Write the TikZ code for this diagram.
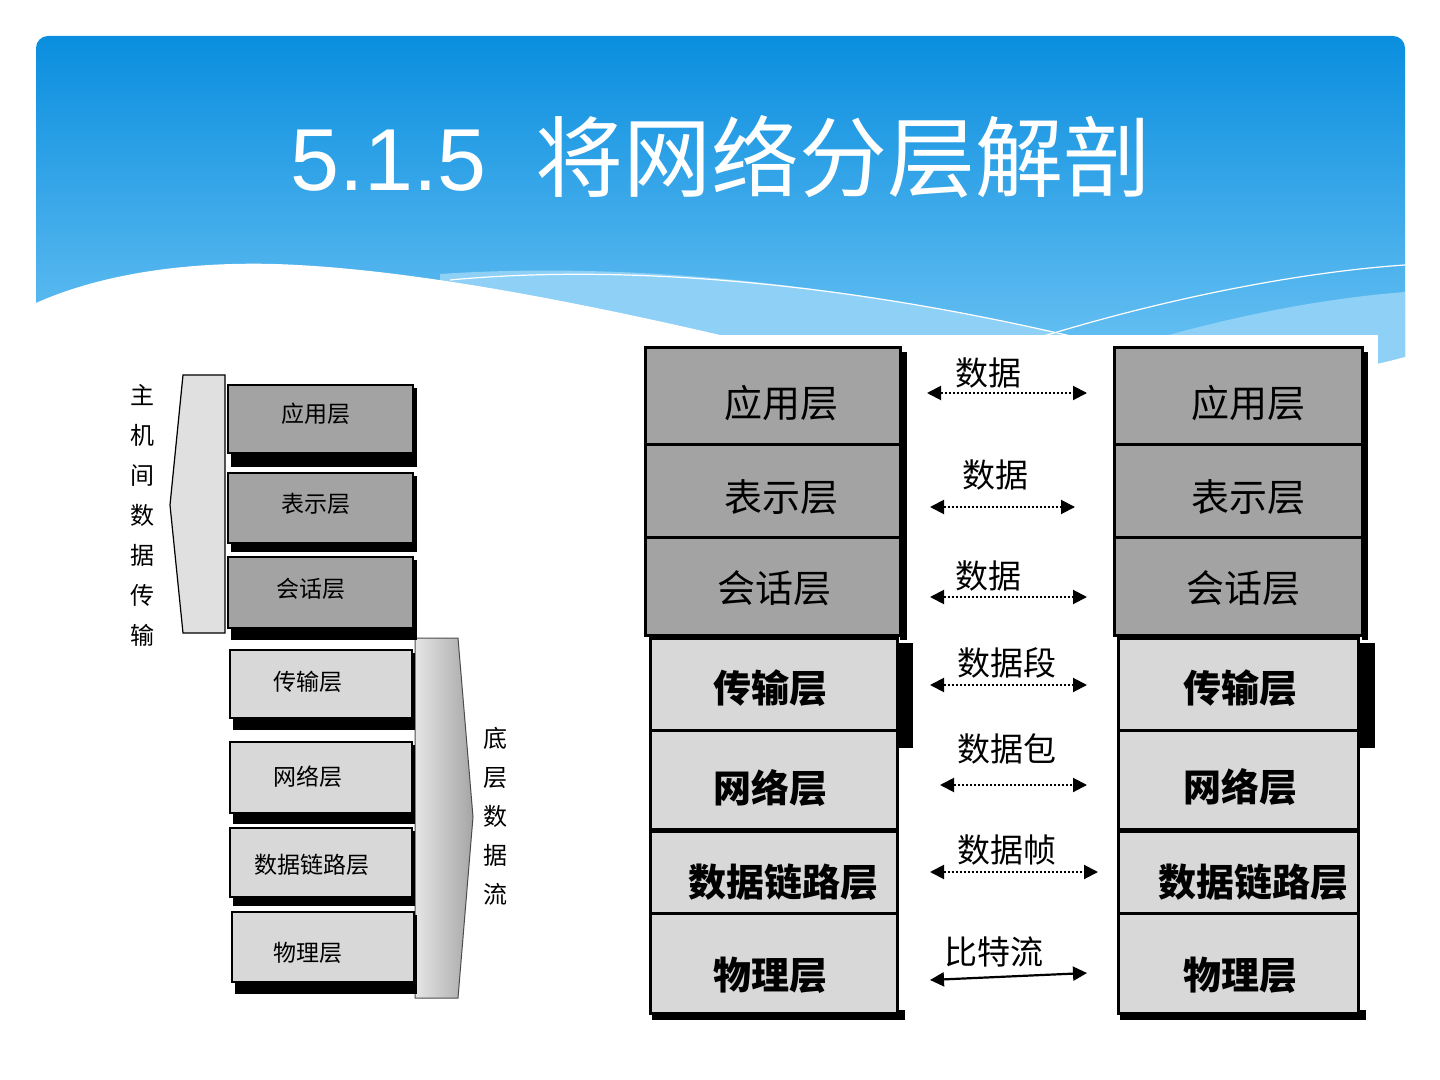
\documentclass[tikz,border=0pt]{standalone}
\usepackage{fontspec}
\setmainfont{Liberation Sans}
\newfontfamily\cjk{Noto Sans CJK SC}
\usetikzlibrary{arrows.meta}
\definecolor{blueTop}{HTML}{0A8EDF}
\definecolor{blueBot}{HTML}{6CC3F3}
\definecolor{bandBlue}{HTML}{8ED0F6}
\definecolor{gUp}{HTML}{A3A3A3}
\definecolor{gLow}{HTML}{D8D8D8}
\definecolor{gArrow}{HTML}{E0E0E0}
\begin{document}
\begin{tikzpicture}[x=0.5pt,y=-0.5pt,
  bord/.style={draw=black,line width=1.5pt},
  lbord/.style={draw=black,line width=1.2pt},
  bigtxt/.style={font={\cjk\fontsize{19}{22}\selectfont},inner sep=0pt},
  bigbold/.style={font={\cjk\bfseries\fontsize{19}{22}\selectfont},inner sep=0pt},
  smalltxt/.style={font={\cjk\fontsize{11.5}{13}\selectfont},inner sep=0pt},
  arrlbl/.style={font={\cjk\fontsize{16.5}{18}\selectfont},inner sep=0pt},
  vtxt/.style={font={\cjk\fontsize{12}{20}\selectfont},align=center,inner sep=0pt},
  dotarrow/.style={densely dotted,line width=1pt,{Triangle[length=7pt,width=7pt]}-{Triangle[length=7pt,width=7pt]}},
  solarrow/.style={line width=1.1pt,{Triangle[length=7pt,width=7pt]}-{Triangle[length=7pt,width=7pt]}}]
\useasboundingbox (0,0) rectangle (1440,1080);
\fill[white] (0,0) rectangle (1440,1080);
% header panel
\shade[top color=blueTop,bottom color=blueBot,rounded corners=6pt] (36,36) rectangle (1405,372);
\fill[bandBlue] (440,274) .. controls (620,262) and (850,280) .. (1130,350) -- (1130,380) -- (440,380) -- cycle;
\fill[bandBlue] (1150,340) .. controls (1250,312) and (1330,298) .. (1405,292) -- (1405,372) -- (1150,372) -- cycle;
\draw[white,line width=0.6pt] (450,280) .. controls (620,264) and (850,280) .. (1120,348);
\draw[white,line width=0.6pt] (1000,350) .. controls (1150,300) and (1300,272) .. (1405,265);
\fill[white] (0,303) -- (36,303) .. controls (110,270) and (200,262) .. (275,264)
  .. controls (400,268) and (560,298) .. (720,335) .. controls (900,380) and (1050,405) .. (1150,400)
  .. controls (1250,390) and (1350,372) .. (1405,357) -- (1440,357) -- (1440,1080) -- (0,1080) -- cycle;
\node[text=white,inner sep=0pt,font=\fontsize{44}{50}\selectfont] (title) at (721,157) {5.1.5\ \ {\cjk 将网络分层解剖}};
% right diagram background
\fill[white] (640,335) rectangle (1378,1022);
% ---------- left diagram ----------
\filldraw[fill=gArrow,draw=black,line width=0.6pt] (183,375) -- (225,375) -- (225,633) -- (183,633) -- (170,505) -- cycle;
\node[vtxt] (hostlbl) at (142,515) {主\\机\\间\\数\\据\\传\\输};
\shadedraw[left color=gray!20,right color=gray!70,draw=black!70,line width=0.5pt] (415,638) -- (458,638) -- (473,817) -- (458,998) -- (415,998) -- cycle;
\node[vtxt,font={\cjk\fontsize{12}{19.5}\selectfont}] (flowlbl) at (495,816) {底\\层\\数\\据\\流};
% left boxes
\fill[black] (231,388) rectangle (417,467);
\draw[lbord,fill=gUp] (228,385) rectangle (413,453);
\fill[black] (231,476) rectangle (417,552);
\draw[lbord,fill=gUp] (228,473) rectangle (413,543);
\fill[black] (231,560) rectangle (417,640);
\draw[lbord,fill=gUp] (228,557) rectangle (413,628);
\fill[black] (233,653) rectangle (415,730);
\draw[lbord,fill=gLow] (230,650) rectangle (412,718);
\fill[black] (233,745) rectangle (415,824);
\draw[lbord,fill=gLow] (230,742) rectangle (412,813);
\fill[black] (233,831) rectangle (415,906);
\draw[lbord,fill=gLow] (230,828) rectangle (412,897);
\fill[black] (235,915) rectangle (417,994);
\draw[lbord,fill=gLow] (232,912) rectangle (414,982);
\node[smalltxt] (s1) at (316,414) {应用层};
\node[smalltxt] (s2) at (316,504) {表示层};
\node[smalltxt] (s3) at (311,589) {会话层};
\node[smalltxt] (s4) at (308,682) {传输层};
\node[smalltxt] (s5) at (308,777) {网络层};
\node[smalltxt] (s6) at (312,865) {数据链路层};
\node[smalltxt] (s7) at (308,953) {物理层};
% ---------- right diagram : left stack ----------
\fill[black] (900,352) rectangle (907,640);
\draw[bord,fill=gUp] (645,348) rectangle (900,635);
\draw[bord] (645,445) -- (900,445);
\draw[bord] (645,537) -- (900,537);
\fill[black] (897,643) rectangle (913,748);
\fill[black] (652,1010) rectangle (905,1020);
\draw[bord,fill=gLow] (650,638) rectangle (897,1013);
\draw[bord] (650,730) -- (897,730);
\draw[line width=2.5pt] (650,830) -- (897,830);
\draw[bord] (650,913) -- (897,913);
\node[bigtxt] (L1) at (781,403) {应用层};
\node[bigtxt] (L2) at (781,497) {表示层};
\node[bigtxt] (L3) at (774,588) {会话层};
\node[bigbold] (L4) at (770,688) {传输层};
\node[bigbold] (L5) at (770,788) {网络层};
\node[bigbold] (L6) at (783,882) {数据链路层};
\node[bigbold] (L7) at (770,975) {物理层};
% ---------- right diagram : right stack ----------
\fill[black] (1362,352) rectangle (1368,640);
\draw[bord,fill=gUp] (1114,348) rectangle (1362,635);
\draw[bord] (1114,445) -- (1362,445);
\draw[bord] (1114,537) -- (1362,537);
\fill[black] (1358,643) rectangle (1375,748);
\fill[black] (1120,1010) rectangle (1366,1020);
\draw[bord,fill=gLow] (1118,638) rectangle (1358,1013);
\draw[bord] (1118,730) -- (1358,730);
\draw[line width=2.5pt] (1118,830) -- (1358,830);
\draw[bord] (1118,913) -- (1358,913);
\node[bigtxt] (R1) at (1248,403) {应用层};
\node[bigtxt] (R2) at (1248,497) {表示层};
\node[bigtxt] (R3) at (1243,588) {会话层};
\node[bigbold] (R4) at (1240,688) {传输层};
\node[bigbold] (R5) at (1240,787) {网络层};
\node[bigbold] (R6) at (1253,882) {数据链路层};
\node[bigbold] (R7) at (1240,975) {物理层};
% ---------- arrows ----------
\coordinate (a1l) at (927,393); \coordinate (a1r) at (1087,393);
\coordinate (a2l) at (930,507); \coordinate (a2r) at (1075,507);
\coordinate (a3l) at (930,597); \coordinate (a3r) at (1087,597);
\coordinate (a4l) at (930,685); \coordinate (a4r) at (1087,685);
\coordinate (a5l) at (940,785); \coordinate (a5r) at (1087,785);
\coordinate (a6l) at (930,872); \coordinate (a6r) at (1098,872);
\coordinate (a7l) at (930,980); \coordinate (a7r) at (1087,973);
\draw[dotarrow] (a1l) -- (a1r);
\draw[dotarrow] (a2l) -- (a2r);
\draw[dotarrow] (a3l) -- (a3r);
\draw[dotarrow] (a4l) -- (a4r);
\draw[dotarrow] (a5l) -- (a5r);
\draw[dotarrow] (a6l) -- (a6r);
\draw[solarrow] (a7l) -- (a7r);
\node[arrlbl] (t1) at (988,373) {数据};
\node[arrlbl] (t2) at (995,475) {数据};
\node[arrlbl] (t3) at (988,576) {数据};
\node[arrlbl] (t4) at (1007,663) {数据段};
\node[arrlbl] (t5) at (1007,749) {数据包};
\node[arrlbl] (t6) at (1007,850) {数据帧};
\node[arrlbl] (t7) at (994,952) {比特流};
\end{tikzpicture}
\end{document}
